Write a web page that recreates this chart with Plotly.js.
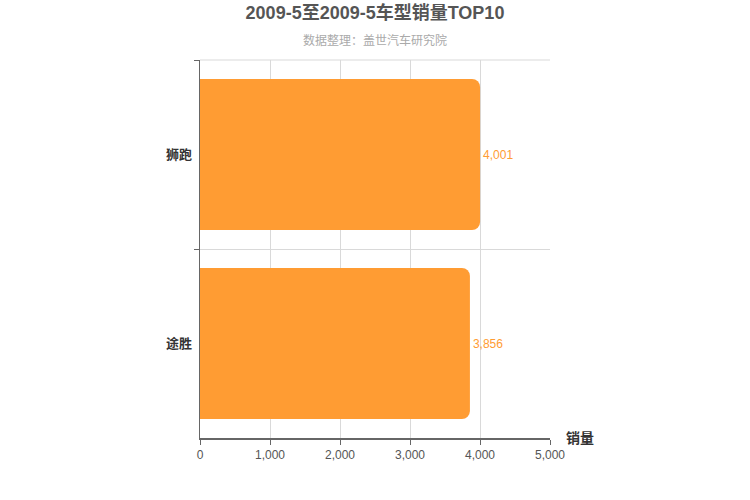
<!DOCTYPE html>
<html>
<head>
<meta charset="utf-8">
<script src="https://cdn.plot.ly/plotly-3.0.1.min.js"></script>
<style>
  body { margin: 0; background: #fff; }
  #chart { width: 750px; height: 500px; }
</style>
</head>
<body>
<div id="chart"></div>
<script>
// top 10 models by sales (only two in this period)
const models = ['狮跑', '途胜'];
const sales = [4001, 3856];
const xTicks = [0, 1000, 2000, 3000, 4000, 5000];

const barColor = '#ff9c33';
const fontFamily = 'Arial, "Noto Sans CJK SC", sans-serif';

const data = [{
  type: 'bar',
  orientation: 'h',
  y: models,
  x: sales,
  marker: { color: barColor, cornerradius: 8 },
  text: sales.map(v => v.toLocaleString('en-US')),
  textposition: 'outside',
  textfont: { color: barColor, size: 12, family: fontFamily },
  cliponaxis: false,
  hoverinfo: 'x+y'
}];

const layout = {
  width: 750,
  height: 500,
  margin: { l: 200, r: 200, t: 60, b: 62 },
  paper_bgcolor: '#fff',
  plot_bgcolor: '#fff',
  font: { family: fontFamily, color: '#333' },
  bargap: 0.2,
  showlegend: false,
  title: {
    text: '2009-5至2009-5车型销量TOP10',
    font: { size: 18, color: '#555', weight: 'bold' },
    x: 0.5, xanchor: 'center',
    y: 0.975, yanchor: 'middle'
  },
  xaxis: {
    range: [0, 5000],
    tickvals: xTicks,
    ticktext: xTicks.map(v => v.toLocaleString('en-US')),
    showgrid: true,
    gridcolor: '#d9d9d9',
    zeroline: false,
    showline: true,
    linecolor: '#666',
    linewidth: 1.5,
    ticks: 'outside',
    ticklen: 5,
    tickcolor: '#666',
    tickfont: { size: 12, color: '#555' },
    fixedrange: true
  },
  yaxis: {
    autorange: 'reversed',
    tickson: 'boundaries',
    ticks: 'outside',
    ticklen: 5,
    tickcolor: '#666',
    showgrid: true,
    gridcolor: '#d9d9d9',
    showline: true,
    linecolor: '#666',
    linewidth: 1.5,
    tickfont: { size: 13, color: '#333', weight: 'bold' },
    ticklabelstandoff: 4,
    fixedrange: true
  },
  annotations: [
    {
      text: '数据整理：盖世汽车研究院',
      xref: 'paper', yref: 'paper',
      x: 0.5, y: 1, xanchor: 'center', yanchor: 'bottom', yshift: 10,
      showarrow: false,
      font: { size: 12, color: '#aaa' }
    },
    {
      text: '<b>销量</b>',
      xref: 'paper', yref: 'paper',
      x: 1, y: 0, xanchor: 'left', yanchor: 'middle', xshift: 14,
      showarrow: false,
      font: { size: 14, color: '#333' }
    }
  ],
  // top border of the grid
  shapes: [{
    type: 'line', xref: 'paper', yref: 'paper',
    x0: 0, x1: 1, y0: 1, y1: 1,
    line: { color: '#d9d9d9', width: 1 }
  }]
};

Plotly.newPlot('chart', data, layout, { displayModeBar: false, staticPlot: true });
</script>
</body>
</html>
